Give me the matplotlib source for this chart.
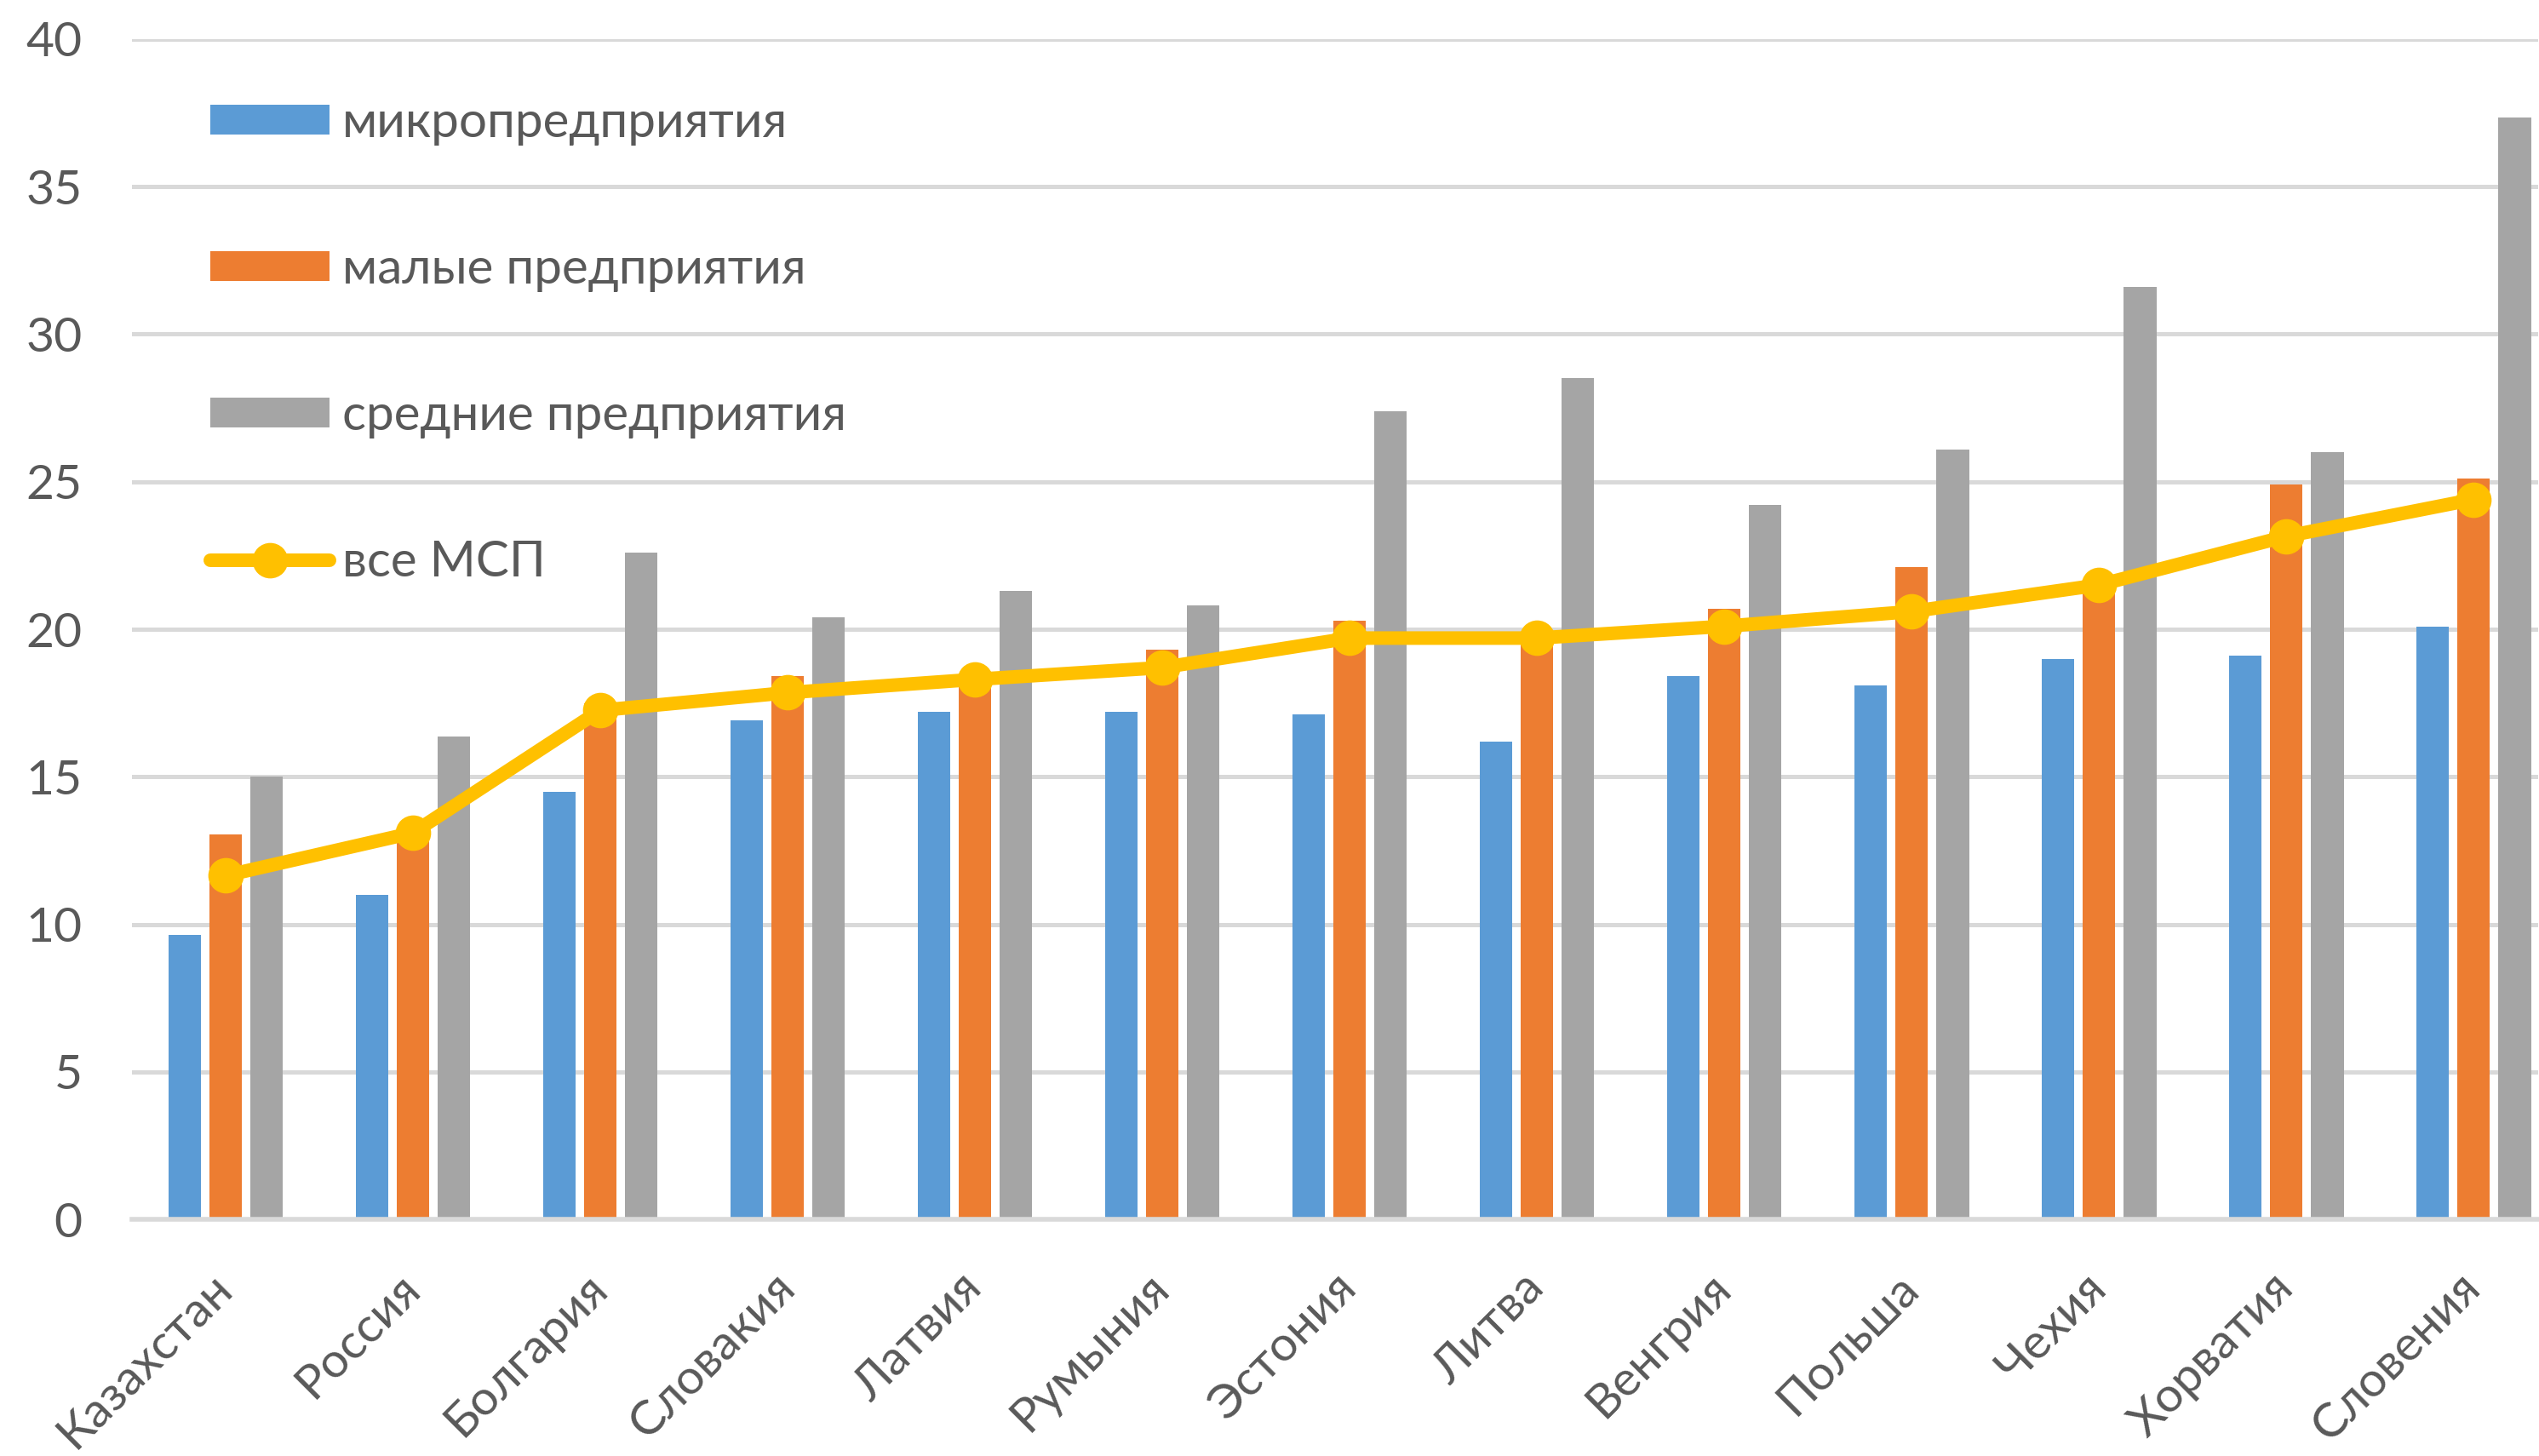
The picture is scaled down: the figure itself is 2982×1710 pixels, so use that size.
import numpy as np
import matplotlib
matplotlib.use('Agg')
import matplotlib.pyplot as plt

plt.rcParams['font.family'] = ['Lato', 'DejaVu Sans']

countries = ['Казахстан', 'Россия', 'Болгария', 'Словакия', 'Латвия', 'Румыния', 'Эстония',
             'Литва', 'Венгрия', 'Польша', 'Чехия', 'Хорватия', 'Словения']
micro = [9.65, 11.0, 14.5, 16.9, 17.2, 17.2, 17.1, 16.2, 18.4, 18.1, 19.0, 19.1, 20.1]
small = [13.05, 12.9, 17.5, 18.4, 18.4, 19.3, 20.3, 19.8, 20.7, 22.1, 21.5, 24.9, 25.1]
medium = [15.0, 16.35, 22.6, 20.4, 21.3, 20.8, 27.4, 28.5, 24.2, 26.1, 31.6, 26.0, 37.35]
all_sme = [11.65, 13.1, 17.25, 17.85, 18.3, 18.7, 19.7, 19.7, 20.1, 20.6, 21.5, 23.15, 24.4]

labels = ['микропредприятия', 'малые предприятия', 'средние предприятия', 'все МСП']
text_col = '#595959'

fig = plt.figure(figsize=(29.82, 17.10), dpi=100)
ax = fig.add_axes([155/2982, 1 - 1432/1710, 2826/2982, (1432 - 46)/1710])

x = np.arange(len(countries))
w = 0.173
step = 0.22
b1 = ax.bar(x - step, micro, w, color='#5B9BD5', label=labels[0], zorder=2)
b2 = ax.bar(x, small, w, color='#ED7D31', label=labels[1], zorder=2)
b3 = ax.bar(x + step, medium, w, color='#A5A5A5', label=labels[2], zorder=2)
ln, = ax.plot(x, all_sme, color='#FFC000', lw=11.5, marker='o', markersize=29,
              label=labels[3], zorder=3, solid_capstyle='round')

ax.set_xlim(-0.5, 12.345)
ax.set_ylim(0, 40)
ax.set_yticks(range(0, 41, 5))
ax.grid(axis='y', color='#D9D9D9', lw=3.6, zorder=0)
ax.set_axisbelow(True)
for s in ['top', 'right', 'left']:
    ax.spines[s].set_visible(False)
ax.spines['bottom'].set_color('#D9D9D9')
ax.spines['bottom'].set_linewidth(4)

ax.set_xticks(x)
ax.set_xticklabels(countries, rotation=45, ha='right', va='center', rotation_mode='anchor')
ax.tick_params(axis='x', length=0, pad=52, labelsize=41, labelcolor=text_col)
ax.tick_params(axis='y', length=0, pad=42, labelsize=41, labelcolor=text_col)

leg = ax.legend([b1, b2, b3, ln], labels, loc='upper left', bbox_to_anchor=(0.0326, 0.948),
                frameon=False, fontsize=42, labelcolor=text_col, handlelength=2.4,
                handleheight=0.57, handletextpad=0.25, labelspacing=2.04,
                borderpad=0, borderaxespad=0)

fig.savefig('out.png', dpi=100)
